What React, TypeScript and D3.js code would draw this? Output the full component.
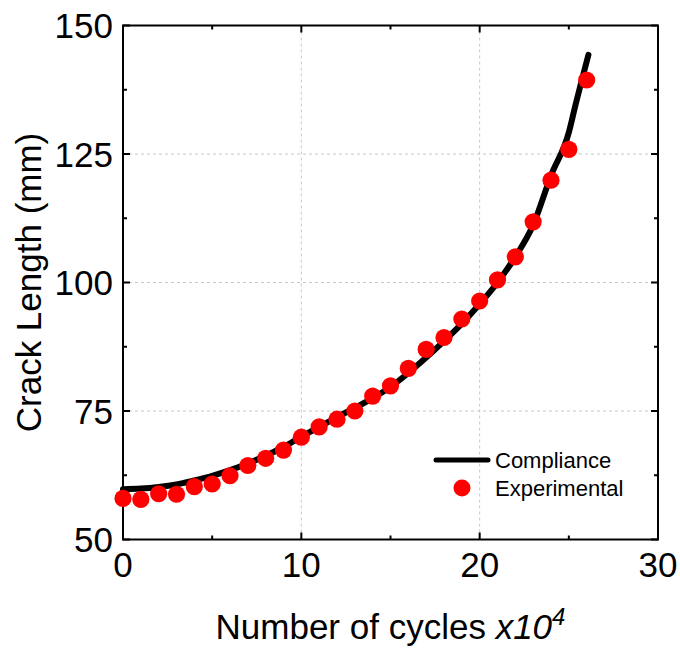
import React from "react";
import * as d3 from "d3";

// experimental points (cycles x10^4, crack length mm)
const expCycles = [0, 1, 2, 3, 4, 5, 6, 7, 8, 9, 10, 11, 12, 13, 14, 15, 16, 17, 18, 19, 20, 21, 22, 23, 24, 25, 26];
const expLength = [
  58.0, 57.8, 58.9, 58.8, 60.3, 60.8, 62.4, 64.4, 65.8, 67.4, 69.9, 71.9, 73.4, 75.0, 77.9, 79.9, 83.3, 87.0,
  89.3, 92.9, 96.4, 100.5, 105.0, 111.8, 119.9, 125.9, 139.4,
];

// compliance curve
const compCycles = [0, 1, 2, 3, 4, 5, 6, 7, 8, 9, 10, 11, 12, 13, 14, 15, 16, 17, 18, 19, 20, 21, 22, 23, 24, 25, 25.35, 26.1];
const compLength = [
  59.8, 59.9, 60.2, 60.7, 61.5, 62.4, 63.5, 64.8, 66.3, 68.0, 70.0, 71.9, 73.8, 75.6, 77.5, 79.7, 82.4, 85.4,
  88.6, 92.0, 95.8, 100.0, 105.0, 111.2, 120.8, 129.2, 134.2, 144.3,
];

const xTicks = [0, 10, 20, 30];
const xMinor = [5, 15, 25];
const yTicks = [50, 75, 100, 125, 150];
const yMinor = [62.5, 87.5, 112.5, 137.5];

const FONT = "'Liberation Sans', Arial, Helvetica, sans-serif";

const CrackChart: React.FC = () => {
  const svgRef = React.useRef<SVGSVGElement | null>(null);

  React.useEffect(() => {
    if (!svgRef.current) return;
    const svg = d3.select(svgRef.current);
    svg.selectAll("*").remove();

    const left = 123;
    const right = 658;
    const top = 25.5;
    const bottom = 539.5;

    const x = d3.scaleLinear().domain([0, 30]).range([left, right]);
    const y = d3.scaleLinear().domain([50, 150]).range([bottom, top]);

    // grid
    const grid = svg.append("g").attr("stroke", "#c8c8c8").attr("stroke-width", 1).attr("stroke-dasharray", "3,3");
    [10, 20].forEach((v) => {
      grid.append("line").attr("x1", x(v)).attr("x2", x(v)).attr("y1", top).attr("y2", bottom);
    });
    [75, 100, 125].forEach((v) => {
      grid.append("line").attr("x1", left).attr("x2", right).attr("y1", y(v)).attr("y2", y(v));
    });

    // frame + inward ticks
    const frame = svg.append("g").attr("stroke", "#000").attr("stroke-width", 2);
    frame
      .append("rect")
      .attr("x", left)
      .attr("y", top)
      .attr("width", right - left)
      .attr("height", bottom - top)
      .attr("fill", "none");

    const tick = (v: number, len: number) => {
      frame.append("line").attr("x1", x(v)).attr("x2", x(v)).attr("y1", bottom).attr("y2", bottom - len);
      frame.append("line").attr("x1", x(v)).attr("x2", x(v)).attr("y1", top).attr("y2", top + len);
    };
    const ytick = (v: number, len: number) => {
      frame.append("line").attr("y1", y(v)).attr("y2", y(v)).attr("x1", left).attr("x2", left + len);
      frame.append("line").attr("y1", y(v)).attr("y2", y(v)).attr("x1", right).attr("x2", right - len);
    };
    xTicks.forEach((v) => tick(v, 7));
    xMinor.forEach((v) => tick(v, 4));
    yTicks.forEach((v) => ytick(v, 7));
    yMinor.forEach((v) => ytick(v, 4));

    // tick labels
    const labels = svg.append("g").attr("font-family", FONT).attr("font-size", 35).attr("fill", "#000");
    xTicks.forEach((v) => {
      labels.append("text").attr("x", x(v)).attr("y", 577).attr("text-anchor", "middle").text(v);
    });
    yTicks.forEach((v) => {
      labels
        .append("text")
        .attr("x", 113)
        .attr("y", y(v))
        .attr("dy", "0.36em")
        .attr("text-anchor", "end")
        .text(v);
    });

    // axis titles
    svg
      .append("text")
      .attr("transform", `translate(41, ${(top + bottom) / 2}) rotate(-90)`)
      .attr("text-anchor", "middle")
      .attr("font-family", FONT)
      .attr("font-size", 35)
      .text("Crack Length (mm)");

    const xt = svg
      .append("text")
      .attr("x", (left + right) / 2)
      .attr("y", 639)
      .attr("text-anchor", "middle")
      .attr("font-family", FONT)
      .attr("font-size", 35);
    xt.append("tspan").text("Number of cycles ");
    xt.append("tspan").attr("font-style", "italic").text("x10");
    xt.append("tspan").attr("font-style", "italic").attr("font-size", 24).attr("dy", -14).text("4");

    // compliance curve
    const compData = compCycles.map((c, i) => [c, compLength[i]] as [number, number]);
    const line = d3
      .line<[number, number]>()
      .x((d) => x(d[0]))
      .y((d) => y(d[1]))
      .curve(d3.curveMonotoneX);
    svg
      .append("path")
      .datum(compData)
      .attr("d", line)
      .attr("fill", "none")
      .attr("stroke", "#000")
      .attr("stroke-width", 6)
      .attr("stroke-linecap", "round")
      .attr("stroke-linejoin", "round");

    // experimental points
    svg
      .append("g")
      .selectAll("circle")
      .data(expCycles.map((c, i) => [c, expLength[i]]))
      .join("circle")
      .attr("cx", (d) => x(d[0]))
      .attr("cy", (d) => y(d[1]))
      .attr("r", 8.6)
      .attr("fill", "#ff0000");

    // legend
    const lg = svg.append("g").attr("font-family", FONT).attr("font-size", 22);
    lg.append("line")
      .attr("x1", 436)
      .attr("x2", 488)
      .attr("y1", 460)
      .attr("y2", 460)
      .attr("stroke", "#000")
      .attr("stroke-width", 5)
      .attr("stroke-linecap", "round");
    lg.append("text").attr("x", 495).attr("y", 467.5).text("Compliance");
    lg.append("circle").attr("cx", 462).attr("cy", 488).attr("r", 8.5).attr("fill", "#ff0000");
    lg.append("text").attr("x", 495).attr("y", 496).text("Experimental");
  }, []);

  return (
    <svg
      ref={svgRef}
      width={680}
      height={650}
      style={{ position: "absolute", left: 0, top: 0, background: "#fff" }}
    ></svg>
  );
};

export default function App() {
  return <CrackChart />;
}
